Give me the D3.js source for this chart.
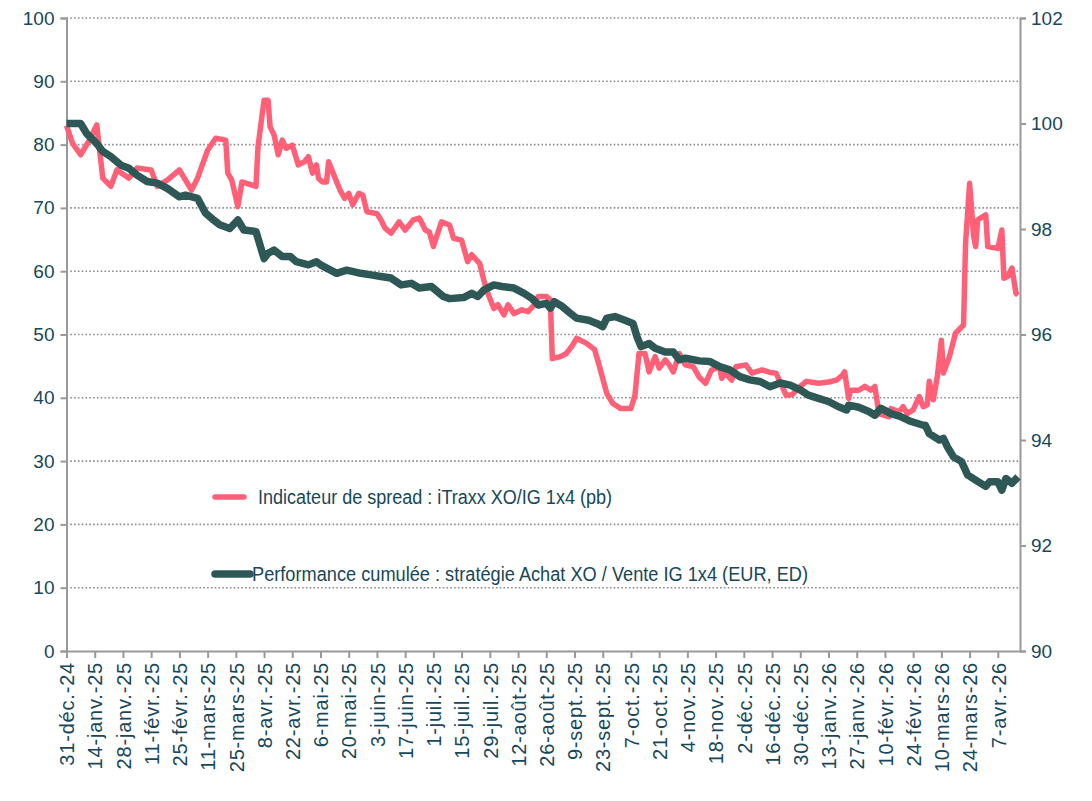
<!DOCTYPE html>
<html>
<head>
<meta charset="utf-8">
<script src="https://cdn.jsdelivr.net/npm/d3@7"></script>
<style>
  body { margin: 0; background: #fff; }
  svg { display: block; }
  .tick-label { font-family: "Liberation Sans", Arial, sans-serif; fill: #17475a; }
  .legend-text { font-family: "Liberation Sans Narrow", "Arial Narrow", "Liberation Sans", sans-serif; fill: #17475a; }
</style>
</head>
<body>
<div id="chart"></div>
<script>
// Spread indicator iTraxx XO/IG 1x4 (bp) - left axis
const spreadDates = [
  "2024-12-31","2025-01-03","2025-01-07","2025-01-11","2025-01-15","2025-01-18","2025-01-22","2025-01-25","2025-01-31",
  "2025-02-04","2025-02-11","2025-02-14","2025-02-19","2025-02-25","2025-03-03","2025-03-06","2025-03-11","2025-03-15",
  "2025-03-20","2025-03-21","2025-03-23","2025-03-26","2025-03-28","2025-04-04","2025-04-05","2025-04-08","2025-04-10",
  "2025-04-11","2025-04-13","2025-04-15","2025-04-17","2025-04-19","2025-04-22","2025-04-25","2025-04-28","2025-04-30",
  "2025-05-02","2025-05-04","2025-05-05","2025-05-07","2025-05-09","2025-05-10","2025-05-13","2025-05-16","2025-05-18",
  "2025-05-20","2025-05-22","2025-05-25","2025-05-27","2025-05-29","2025-06-03","2025-06-05","2025-06-07","2025-06-10",
  "2025-06-14","2025-06-17","2025-06-21","2025-06-24","2025-06-27","2025-06-29","2025-07-01","2025-07-05","2025-07-09",
  "2025-07-11","2025-07-15","2025-07-18","2025-07-20","2025-07-24","2025-07-26","2025-07-28","2025-07-31","2025-08-02",
  "2025-08-05","2025-08-07","2025-08-10","2025-08-14","2025-08-17","2025-08-20","2025-08-22","2025-08-26","2025-08-28",
  "2025-08-29","2025-09-02","2025-09-05","2025-09-08","2025-09-10","2025-09-15","2025-09-19","2025-09-21","2025-09-25",
  "2025-09-28","2025-10-02","2025-10-07","2025-10-09","2025-10-11","2025-10-14","2025-10-16","2025-10-19","2025-10-21",
  "2025-10-24","2025-10-26","2025-10-28","2025-10-31","2025-11-03","2025-11-07","2025-11-10","2025-11-13","2025-11-16",
  "2025-11-20","2025-11-21","2025-11-23","2025-11-26","2025-11-28","2025-12-03","2025-12-06","2025-12-11","2025-12-15",
  "2025-12-18","2025-12-20","2025-12-23","2025-12-26","2025-12-30","2026-01-02","2026-01-08","2026-01-13","2026-01-17",
  "2026-01-20","2026-01-21","2026-01-23","2026-01-24","2026-01-28","2026-01-31","2026-02-03","2026-02-05","2026-02-07",
  "2026-02-12","2026-02-13","2026-02-17","2026-02-19","2026-02-21","2026-02-24","2026-02-27","2026-03-01","2026-03-03",
  "2026-03-04","2026-03-06","2026-03-08","2026-03-10","2026-03-11","2026-03-14","2026-03-17","2026-03-21","2026-03-22",
  "2026-03-24","2026-03-26","2026-03-27","2026-03-28","2026-04-01","2026-04-02","2026-04-07","2026-04-09","2026-04-10",
  "2026-04-12","2026-04-14","2026-04-16","2026-04-17"
];
const spreadValues = [
  83.0, 80.2, 78.4, 80.5, 83.1, 74.7, 73.4, 76.0, 74.7,
  76.3, 76.0, 73.4, 74.4, 76.0, 72.8, 74.7, 79.1, 81.0,
  80.7, 75.5, 74.4, 70.2, 74.1, 73.4, 79.7, 87.0, 87.0,
  82.8, 81.5, 78.4, 80.7, 79.4, 79.9, 76.8, 77.3, 78.1,
  75.5, 76.8, 74.7, 74.1, 74.1, 77.3, 74.9, 72.6, 71.5,
  72.3, 70.5, 72.3, 72.0, 69.4, 69.1, 68.1, 66.8, 66.0,
  67.8, 66.5, 68.1, 68.4, 66.5, 66.2, 63.9, 67.8, 67.3,
  65.2, 64.9, 61.5, 62.6, 61.2, 58.6, 56.5, 54.1, 54.7,
  53.1, 54.7, 53.3, 53.9, 53.6, 54.7, 56.0, 56.0, 55.5,
  46.2, 46.5, 47.0, 48.3, 49.4, 48.6, 47.6, 45.4, 40.7,
  39.1, 38.3, 38.3, 40.4, 47.0, 47.0, 44.1, 46.5, 44.7,
  46.0, 45.2, 44.1, 47.0, 45.2, 44.9, 43.2, 42.3, 44.4,
  44.9, 43.1, 43.9, 42.8, 44.9, 45.2, 43.9, 44.4, 44.0,
  43.9, 42.5, 40.4, 40.5, 41.8, 42.6, 42.3, 42.5, 42.8,
  43.6, 44.1, 39.9, 41.2, 41.2, 41.8, 41.2, 41.8, 37.5,
  37.0, 38.3, 37.8, 38.6, 37.5, 38.1, 40.2, 38.6, 38.9,
  42.6, 39.7, 43.4, 49.1, 43.9, 46.5, 50.2, 51.5, 64.4,
  73.9, 65.5, 63.9, 68.1, 68.9, 63.9, 63.6, 66.5, 58.9,
  59.2, 60.5, 56.5, 56.2
];

// Cumulative performance, long XO / short IG 1x4 (EUR) - right axis
const perfDates = [
  "2024-12-31","2025-01-03","2025-01-07","2025-01-10","2025-01-15","2025-01-18","2025-01-22","2025-01-27","2025-01-31",
  "2025-02-04","2025-02-09","2025-02-14","2025-02-19","2025-02-25","2025-02-28","2025-03-06","2025-03-10","2025-03-14",
  "2025-03-17","2025-03-22","2025-03-26","2025-03-29","2025-04-04","2025-04-08","2025-04-10","2025-04-13","2025-04-17",
  "2025-04-21","2025-04-24","2025-04-30","2025-05-04","2025-05-06","2025-05-11","2025-05-14","2025-05-19","2025-05-26",
  "2025-05-31","2025-06-05","2025-06-10","2025-06-15","2025-06-20","2025-06-24","2025-06-30","2025-07-06","2025-07-09",
  "2025-07-16","2025-07-20","2025-07-23","2025-07-26","2025-07-31","2025-08-04","2025-08-10","2025-08-15","2025-08-19",
  "2025-08-22","2025-08-26","2025-08-28","2025-08-30","2025-09-03","2025-09-07","2025-09-10","2025-09-16","2025-09-20",
  "2025-09-23","2025-09-25","2025-09-29","2025-10-04","2025-10-08","2025-10-10","2025-10-12","2025-10-16","2025-10-19",
  "2025-10-24","2025-10-28","2025-10-31","2025-11-03","2025-11-10","2025-11-15","2025-11-20","2025-11-25","2025-11-30",
  "2025-12-05","2025-12-10","2025-12-15","2025-12-20","2025-12-25","2025-12-30","2026-01-03","2026-01-08","2026-01-13",
  "2026-01-18","2026-01-22","2026-01-23","2026-01-28","2026-02-02","2026-02-05","2026-02-08","2026-02-13","2026-02-18",
  "2026-02-23","2026-03-01","2026-03-02","2026-03-04","2026-03-09","2026-03-11","2026-03-13","2026-03-16","2026-03-20",
  "2026-03-23","2026-03-27","2026-04-01","2026-04-03","2026-04-07","2026-04-09","2026-04-11","2026-04-14","2026-04-17"
];
const perfValues = [
  100.0, 100.0, 100.0, 99.81, 99.62, 99.47, 99.37, 99.21, 99.15,
  99.02, 98.90, 98.87, 98.77, 98.61, 98.64, 98.58, 98.30, 98.17,
  98.08, 98.01, 98.17, 97.98, 97.95, 97.44, 97.54, 97.60, 97.48,
  97.48, 97.38, 97.32, 97.38, 97.32, 97.22, 97.16, 97.22, 97.16,
  97.13, 97.10, 97.07, 96.94, 96.97, 96.88, 96.91, 96.72, 96.68,
  96.70, 96.78, 96.72, 96.84, 96.94, 96.91, 96.88, 96.78, 96.68,
  96.56, 96.59, 96.50, 96.62, 96.53, 96.40, 96.31, 96.27, 96.21,
  96.15, 96.31, 96.34, 96.27, 96.21, 95.96, 95.77, 95.83, 95.74,
  95.67, 95.67, 95.52, 95.55, 95.50, 95.49, 95.39, 95.33, 95.20,
  95.14, 95.11, 95.01, 95.08, 95.04, 94.95, 94.85, 94.79, 94.73,
  94.63, 94.57, 94.66, 94.62, 94.54, 94.47, 94.60, 94.50, 94.44,
  94.35, 94.28, 94.28, 94.12, 94.00, 94.03, 93.87, 93.68, 93.59,
  93.34, 93.24, 93.12, 93.21, 93.21, 93.05, 93.27, 93.18, 93.30
];

// x-axis tick dates (every two weeks)
const tickDates = [
  "2024-12-31","2025-01-14","2025-01-28","2025-02-11","2025-02-25","2025-03-11","2025-03-25","2025-04-08","2025-04-22",
  "2025-05-06","2025-05-20","2025-06-03","2025-06-17","2025-07-01","2025-07-15","2025-07-29","2025-08-12","2025-08-26",
  "2025-09-09","2025-09-23","2025-10-07","2025-10-21","2025-11-04","2025-11-18","2025-12-02","2025-12-16","2025-12-30",
  "2026-01-13","2026-01-27","2026-02-10","2026-02-24","2026-03-10","2026-03-24","2026-04-07"
];
const monthNames = ["janv.","févr.","mars","avr.","mai","juin","juil.","août","sept.","oct.","nov.","déc."];
const leftTicks = [0, 10, 20, 30, 40, 50, 60, 70, 80, 90, 100];
const rightTicks = [90, 92, 94, 96, 98, 100, 102];

const seriesNames = [
  "Indicateur de spread : iTraxx XO/IG 1x4 (pb)",
  "Performance cumulée : stratégie Achat XO / Vente IG 1x4 (EUR, ED)"
];
const seriesColors = ["#ff6078", "#2e5856"];

const W = 1092, H = 801;
const mLeft = 66.5, mRight = 1020, mTop = 18, mBottom = 651;

const parse = d3.timeParse("%Y-%m-%d");
const fmt = d => `${d.getDate()}-${monthNames[d.getMonth()]}-${String(d.getFullYear()).slice(2)}`;

const spread = spreadDates.map((d, i) => ({ date: parse(d), value: spreadValues[i] }));
const perf = perfDates.map((d, i) => ({ date: parse(d), value: perfValues[i] }));

const x = d3.scaleTime()
  .domain([parse("2024-12-31"), parse("2026-04-18")])
  .range([mLeft, mRight]);
const yL = d3.scaleLinear().domain([0, 100]).range([mBottom, mTop]);
const yR = d3.scaleLinear().domain([90, 102]).range([mBottom, mTop]);

const svg = d3.select("#chart").append("svg")
  .attr("width", W)
  .attr("height", H);

// gridlines (dotted)
svg.append("g")
  .selectAll("line")
  .data(leftTicks.filter(t => t > 0))
  .enter().append("line")
  .attr("x1", mLeft).attr("x2", mRight)
  .attr("y1", d => yL(d)).attr("y2", d => yL(d))
  .attr("stroke", "#8c8c8c")
  .attr("stroke-width", 1.6)
  .attr("stroke-dasharray", "1.6,2.2");

// left axis
const axisL = svg.append("g")
  .attr("transform", `translate(${mLeft},0)`)
  .call(d3.axisLeft(yL).tickValues(leftTicks).tickSize(6).tickPadding(6));
axisL.selectAll("text").attr("class", "tick-label").style("font-size", "19px");

// right axis
const axisR = svg.append("g")
  .attr("transform", `translate(${mRight},0)`)
  .call(d3.axisRight(yR).tickValues(rightTicks).tickSize(6).tickPadding(5));
axisR.selectAll("text").attr("class", "tick-label").style("font-size", "19px");

// bottom axis
const axisB = svg.append("g")
  .attr("transform", `translate(0,${mBottom})`)
  .call(d3.axisBottom(x).tickValues(tickDates.map(parse)).tickFormat(fmt).tickSize(7).tickSizeOuter(0));
axisB.selectAll("text")
  .attr("class", "tick-label")
  .style("font-size", "20px")
  .style("letter-spacing", "0.8px")
  .attr("text-anchor", "end")
  .attr("transform", "rotate(-90)")
  .attr("x", -11)
  .attr("y", 0)
  .attr("dy", "0.36em");

[axisL, axisR, axisB].forEach(a => {
  a.select(".domain").attr("stroke", "#999").attr("stroke-width", 2);
  a.selectAll(".tick line").attr("stroke", "#999").attr("stroke-width", 2);
  a.attr("font-family", null);
});

// lines
const lineL = d3.line().x(d => x(d.date)).y(d => yL(d.value));
const lineR = d3.line().x(d => x(d.date)).y(d => yR(d.value));

svg.append("path")
  .datum(spread)
  .attr("d", lineL)
  .attr("fill", "none")
  .attr("stroke", seriesColors[0])
  .attr("stroke-width", 5.5)
  .attr("stroke-linejoin", "round");

svg.append("path")
  .datum(perf)
  .attr("d", lineR)
  .attr("fill", "none")
  .attr("stroke", seriesColors[1])
  .attr("stroke-width", 7.5)
  .attr("stroke-linejoin", "round");

// legend
const legend = svg.append("g");
const legendRows = [
  { x1: 215, x2: 244, tx: 258, y: 497, w: 5.5, len: 354 },
  { x1: 215, x2: 250, tx: 252, y: 574, w: 7.5, len: 556 }
];
legendRows.forEach((r, i) => {
  legend.append("line")
    .attr("x1", r.x1).attr("x2", r.x2)
    .attr("y1", r.y).attr("y2", r.y)
    .attr("stroke", seriesColors[i])
    .attr("stroke-width", r.w)
    .attr("stroke-linecap", "round");
  legend.append("text")
    .attr("class", "legend-text")
    .attr("x", r.tx).attr("y", r.y)
    .attr("dy", "0.35em")
    .style("font-size", "20px")
    .attr("textLength", r.len)
    .attr("lengthAdjust", "spacingAndGlyphs")
    .text(seriesNames[i]);
});
</script>
</body>
</html>
